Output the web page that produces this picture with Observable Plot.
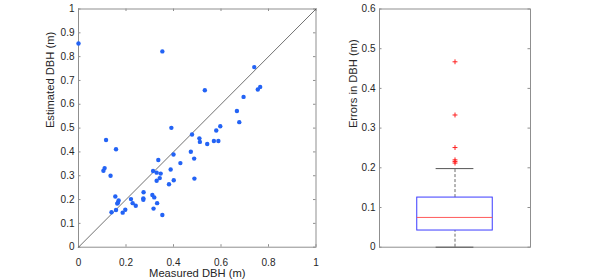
<!DOCTYPE html>
<html><head><meta charset="utf-8">
<script src="https://cdn.jsdelivr.net/npm/d3@7"></script>
<script src="https://cdn.jsdelivr.net/npm/@observablehq/plot@0.6"></script>
<style>
html,body{margin:0;padding:0;background:#fff;}
#wrap{display:flex;width:598px;height:279px;overflow:hidden;}
svg{display:block}
</style></head><body><div id="wrap"></div>
<script>
// ---- data ----
const measured = [0.116,0.158,0.110,0.105,0.135,0.155,0.169,0.166,0.163,0.139,0.158,0.186,0.197,0.221,0.228,0.241,0.274,0.273,0.273,0.311,0.319,0.331,0.316,0.353,0.314,0.329,0.346,0.329,0.342,0.336,0.388,0.381,0.401,0.400,0.429,0.391,0.473,0.478,0.487,0.488,0.509,0.511,0.542,0.570,0.589,0.580,0.597,0.677,0.532,0.740,0.765,0.755,0.695,0.667,0.000,0.353];
const estimated = [0.450,0.411,0.332,0.321,0.300,0.213,0.196,0.187,0.183,0.147,0.156,0.145,0.157,0.202,0.185,0.174,0.231,0.205,0.199,0.219,0.209,0.185,0.162,0.135,0.320,0.313,0.309,0.279,0.290,0.366,0.326,0.264,0.281,0.389,0.353,0.501,0.401,0.473,0.372,0.288,0.457,0.442,0.433,0.446,0.446,0.490,0.508,0.525,0.659,0.756,0.673,0.662,0.631,0.572,0.855,0.822];
const refLine = [0, 1];
const scatterTicksX = [0, 0.2, 0.4, 0.6, 0.8, 1];
const scatterTicksY = [0, 0.1, 0.2, 0.3, 0.4, 0.5, 0.6, 0.7, 0.8, 0.9, 1];
const boxTicksY = [0, 0.1, 0.2, 0.3, 0.4, 0.5, 0.6];
const boxGroup = [1];
const whiskerLow = [0];
const q1 = [0.042];
const median = [0.075];
const q3 = [0.125];
const whiskerHigh = [0.198];
const outliers = [0.467, 0.333, 0.251, 0.220, 0.216, 0.212];
const xLabel1 = "Measured DBH (m)";
const yLabel1 = "Estimated DBH (m)";
const yLabel2 = "Errors in DBH (m)";

// ---- styles ----
const fmt = d3.format("~g");
const textColor = "#262626";
const frameColor = "#8f8f8f";
const font = "'Liberation Sans', Arial, sans-serif";
const tl = 2.5;

const pts = measured.map((m, i) => ({m, e: estimated[i]}));

const W1 = 330, H = 279, mL1 = 78, mR1 = 14.5, mT = 8.5, mB = 32.3;
const pw1 = W1 - mL1 - mR1, ph = H - mT - mB;

const scatter = Plot.plot({
  width: W1, height: H,
  marginLeft: mL1, marginRight: mR1, marginTop: mT, marginBottom: mB,
  style: {fontFamily: font, fontSize: "10px", color: textColor, background: "white", overflow: "visible"},
  x: {domain: [0, 1]},
  y: {domain: [0, 1]},
  marks: [
    Plot.frame({stroke: frameColor, strokeWidth: 1}),
    Plot.tickX(scatterTicksX, {x: d => d, insetTop: ph - tl, stroke: frameColor}),
    Plot.tickX(scatterTicksX, {x: d => d, insetBottom: ph - tl, stroke: frameColor}),
    Plot.tickY(scatterTicksY, {y: d => d, insetRight: pw1 - tl, stroke: frameColor}),
    Plot.tickY(scatterTicksY, {y: d => d, insetLeft: pw1 - tl, stroke: frameColor}),
    Plot.axisX({ticks: scatterTicksX, tickFormat: fmt, tickSize: 0, tickPadding: 12, label: null, fill: textColor}),
    Plot.axisY({ticks: scatterTicksY, tickFormat: fmt, tickSize: 0, tickPadding: 4, label: null, fill: textColor}),
    Plot.line(refLine, {x: d => d, y: d => d, stroke: "#333", strokeWidth: 0.7}),
    Plot.dot(pts, {x: "m", y: "e", r: 2.2, fill: "#2363f5", stroke: "none"}),
    Plot.text([xLabel1], {text: d => d, frameAnchor: "bottom", dy: 26, lineAnchor: "middle", fontSize: 11.2, fill: textColor}),
    Plot.text([yLabel1], {text: d => d, frameAnchor: "left", rotate: -90, dx: -28, fontSize: 11.2, fill: textColor})
  ]
});

const W2 = 268, mL2 = 49, mR2 = 68;
const pw2 = W2 - mL2 - mR2;
const boxHalf = 0.25, capHalf = 0.125;

const box = Plot.plot({
  width: W2, height: H,
  marginLeft: mL2, marginRight: mR2, marginTop: mT, marginBottom: mB,
  style: {fontFamily: font, fontSize: "10px", color: textColor, background: "white", overflow: "visible"},
  x: {domain: [0.5, 1.5], axis: null},
  y: {domain: [0, 0.6]},
  marks: [
    Plot.frame({stroke: frameColor, strokeWidth: 1}),
    Plot.tickY(boxTicksY, {y: d => d, insetRight: pw2 - tl, stroke: frameColor}),
    Plot.tickY(boxTicksY, {y: d => d, insetLeft: pw2 - tl, stroke: frameColor}),
    Plot.axisY({ticks: boxTicksY, tickFormat: fmt, tickSize: 0, tickPadding: 4, label: null, fill: textColor}),
    // whiskers
    Plot.ruleX(boxGroup, {x: d => d, y1: q3[0], y2: whiskerHigh[0], stroke: "#444", strokeDasharray: "3,2", strokeWidth: 0.8}),
    Plot.ruleX(boxGroup, {x: d => d, y1: whiskerLow[0], y2: q1[0], stroke: "#444", strokeDasharray: "3,2", strokeWidth: 0.8}),
    Plot.ruleY(whiskerHigh, {y: d => d, x1: boxGroup[0] - capHalf, x2: boxGroup[0] + capHalf, stroke: "#555", strokeWidth: 1}),
    Plot.ruleY(whiskerLow, {y: d => d, x1: boxGroup[0] - capHalf, x2: boxGroup[0] + capHalf, stroke: "#555", strokeWidth: 1}),
    // box
    Plot.rect(boxGroup, {x1: d => d - boxHalf, x2: d => d + boxHalf, y1: q1[0], y2: q3[0], fill: "none", stroke: "#3b3bff", strokeWidth: 1}),
    Plot.ruleY(median, {y: d => d, x1: boxGroup[0] - boxHalf, x2: boxGroup[0] + boxHalf, stroke: "#ff5a5a", strokeWidth: 1}),
    Plot.dot(outliers, {x: () => boxGroup[0], y: d => d, symbol: "plus", r: 1.7, stroke: "#ff2020", strokeWidth: 1}),
    Plot.text([yLabel2], {text: d => d, frameAnchor: "left", rotate: -90, dx: -26, fontSize: 11.2, fill: textColor})
  ]
});

document.getElementById("wrap").append(scatter, box);
</script>
</body></html>
